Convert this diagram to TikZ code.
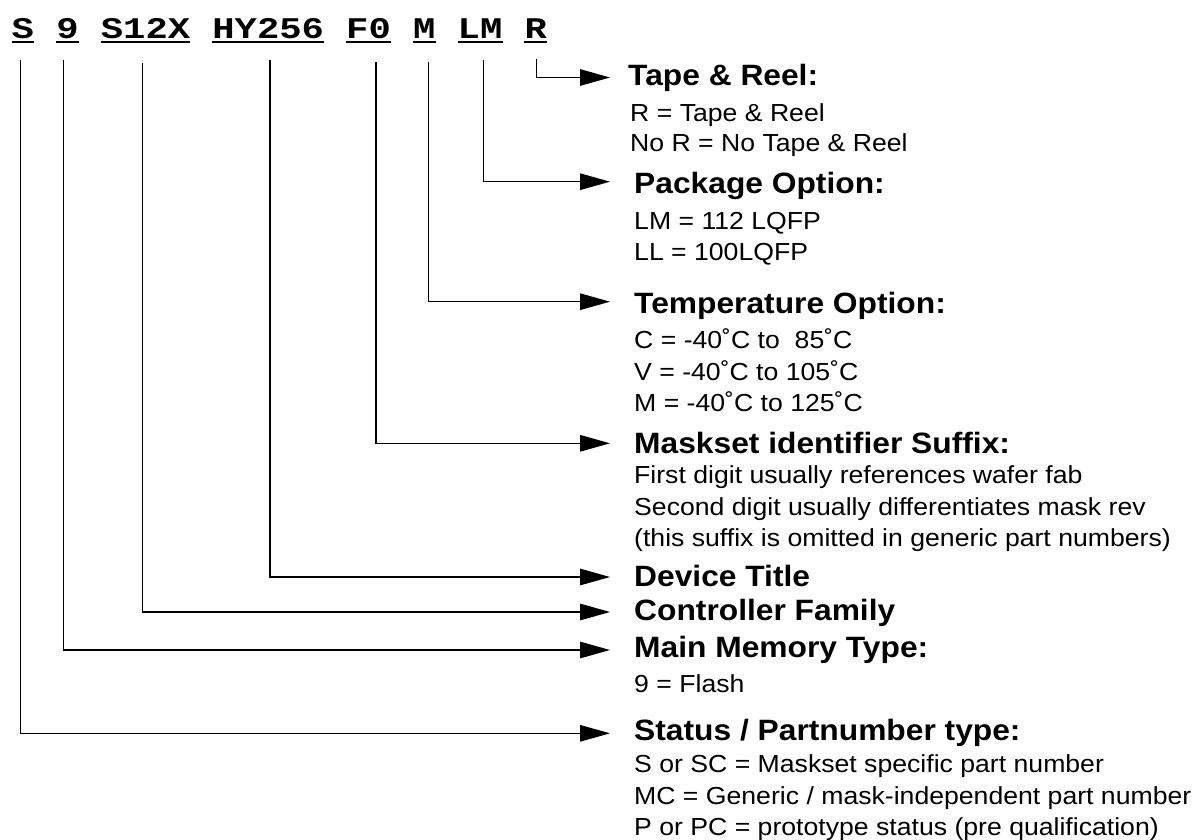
\documentclass[tikz,border=0pt]{standalone}
\usepackage{fontspec}
\usetikzlibrary{arrows.meta}
\newfontfamily\sansf{Liberation Sans}[FakeStretch=1.08]
\newfontfamily\monof{Liberation Mono}[FakeStretch=1.24]
\begin{document}
\begin{tikzpicture}[x=1pt,y=-1pt,
  pn/.style={inner sep=0pt, anchor=base west, font=\monof\bfseries\fontsize{30}{30}\selectfont},
  ttl/.style={inner sep=0pt, anchor=base west, font=\sansf\bfseries\fontsize{29.4}{30}\selectfont},
  dsc/.style={inner sep=0pt, anchor=base west, font=\sansf\fontsize{24.65}{30}\selectfont},
  con/.style={line width=1.3pt, -{Triangle[length=30pt,width=16.5pt]}},
  ul/.style={line width=1.7pt}]
\fill[white] (0,0) rectangle (1194,839);
\useasboundingbox (0,0) rectangle (1194,839);

% part number groups
\node[pn] (pS)    at (11.5,38)  {S};
\node[pn] (p9)    at (56.1,38)  {9};
\node[pn] (pS12X) at (100.7,38) {S12X};
\node[pn] (pHY)   at (212.2,38) {HY256};
\node[pn] (pF0)   at (346,38)   {F0};
\node[pn] (pM)    at (412.9,38) {M};
\node[pn] (pLM)   at (457.5,38) {LM};
\node[pn] (pR)    at (524.4,38) {R};
\foreach \n in {pS,p9,pS12X,pHY,pF0,pM,pLM,pR}
  \draw[ul] ([yshift=-3.7pt]\n.base west) -- ([yshift=-3.7pt]\n.base east);

% connector starts
\coordinate (tS)    at (20.7,60);
\coordinate (t9)    at (63.3,60);
\coordinate (tS12X) at (142.7,63);
\coordinate (tHY)   at (270,60);
\coordinate (tF0)   at (376,61.5);
\coordinate (tM)    at (428.7,61.5);
\coordinate (tLM)   at (483.5,59.5);
\coordinate (tR)    at (536.5,58.5);
% connector ends
\coordinate (aR)    at (610,77.5);
\coordinate (aLM)   at (610,181.7);
\coordinate (aM)    at (610,301.7);
\coordinate (aF0)   at (610,443.3);
\coordinate (aHY)   at (610,577);
\coordinate (aS12X) at (610,612);
\coordinate (a9)    at (610,650);
\coordinate (aS)    at (610,733.3);

\draw[con] (tR) |- (aR);
\draw[con] (tLM) |- (aLM);
\draw[con] (tM) |- (aM);
\draw[con] (tF0) |- (aF0);
\draw[con] (tHY) |- (aHY);
\draw[con] (tS12X) |- (aS12X);
\draw[con] (t9) |- (a9);
\draw[con] (tS) |- (aS);

% texts
\node[ttl] (tape)  at (628,85)    {Tape \& Reel:};
\node[dsc] (tape1) at (630,121)   {R = Tape \& Reel};
\node[dsc] (tape2) at (630,151.7) {No R = No Tape \& Reel};

\node[ttl] (pack)  at (634,193.3) {Package Option:};
\node[dsc] (pack1) at (634,229.3) {LM = 112 LQFP};
\node[dsc] (pack2) at (634,260.5) {LL = 100LQFP};

\node[ttl] (temp)  at (634,313)   {Temperature Option:};
\node[dsc] (temp1) at (634,348.3) {C = -40˚C to\ \ 85˚C};
\node[dsc] (temp2) at (634,380)   {V = -40˚C to 105˚C};
\node[dsc] (temp3) at (634,411.7) {M = -40˚C to 125˚C};

\node[ttl] (mask)  at (634,453.3) {Maskset identifier Suffix:};
\node[dsc] (mask1) at (634,483.3) {First digit usually references wafer fab};
\node[dsc] (mask2) at (634,515)   {Second digit usually differentiates mask rev};
\node[dsc] (mask3) at (634,546.5) {(this suffix is omitted in generic part numbers)};

\node[ttl] (dev)   at (634,586)   {Device Title};
\node[ttl] (ctrl)  at (634,620)   {Controller Family};
\node[ttl] (mem)   at (634,657)   {Main Memory Type:};
\node[dsc] (mem1)  at (634,692.5) {9 = Flash};

\node[ttl] (stat)  at (634,740)   {Status / Partnumber type:};
\node[dsc] (stat1) at (634,772.3) {S or SC = Maskset specific part number};
\node[dsc] (stat2) at (634,804)   {MC = Generic / mask-independent part number};
\node[dsc] (stat3) at (634,835.7) {P or PC = prototype status (pre qualification)};
\end{tikzpicture}
\end{document}
